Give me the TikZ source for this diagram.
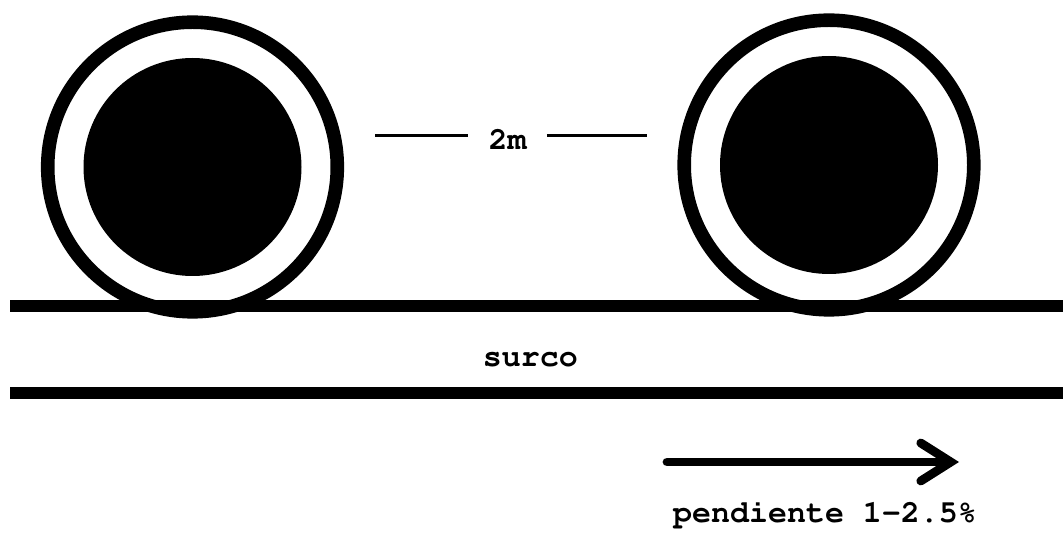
\documentclass[tikz,border=0pt]{standalone}
\usepackage[T1]{fontenc}
\usepackage{courier}
\usepackage{tikz}
\usetikzlibrary{arrows.meta,positioning,calc}

\begin{document}
\begin{tikzpicture}[font=\ttfamily\bfseries\fontsize{22.5pt}{27pt}\selectfont, x=1cm, y=1cm]
\tikzset{ring/.style={draw=black, line width=.34cm}, disk/.style={fill=black}, furrow/.style={draw=black, line width=.3cm}, dimline/.style={draw=black, line width=.07cm}, slope/.style={draw=black, line width=.22cm, line cap=round, -{Straight Barb[length=.75cm, width=.95cm, line cap=round]}}, lbl/.style={inner sep=0pt, anchor=base}}
\useasboundingbox (0,0) rectangle (26.575,13.475);
% rows of furrow
\coordinate (topL) at (.25,5.825);
\coordinate (topR) at (26.575,5.825);
\coordinate (botL) at (.25,3.65);
\coordinate (botR) at (26.575,3.65);
\draw[furrow] (topL) -- (topR);
\draw[furrow] (botL) -- (botR);
% the two rings
\foreach \name/\x/\y in {left/4.8125/9.3, right/20.725/9.35} {
  \coordinate (\name) at (\x,\y);
  \draw[ring] (\name) circle (3.62);
  \fill[disk] (\name) circle (2.725);
}
% spacing
\node[lbl, inner xsep=.5cm] (dim) at (12.69,9.725) {2m};
\coordinate (dimL) at (9.375,10.09);
\coordinate (dimR) at (16.175,10.09);
\draw[dimline] (dimL) -- (dimL -| dim.west);
\draw[dimline] (dim.east |- dimR) -- (dimR);
\node[lbl] (surco) at (13.26,4.3) {surco};
% slope
\coordinate (slopeA) at (16.675,1.925);
\coordinate (slopeB) at (23.975,1.925);
\draw[slope] (slopeA) -- (slopeB);
\node[lbl] (pend) at (20.625,.425) {pendiente 1-2.5\%};
\end{tikzpicture}
\end{document}
